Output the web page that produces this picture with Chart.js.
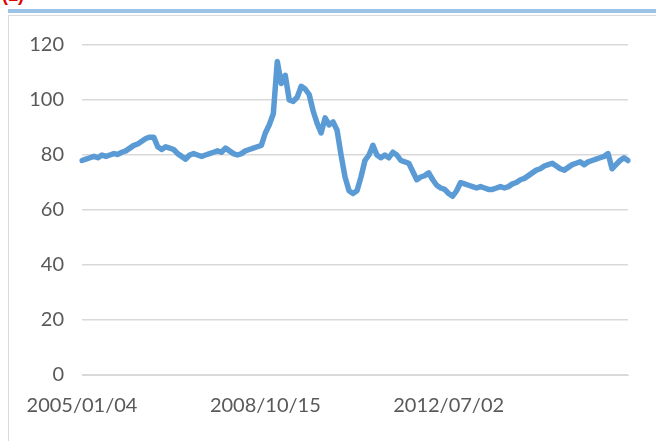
<!DOCTYPE html>
<html>
<head>
<meta charset="utf-8">
<script src="https://cdn.jsdelivr.net/npm/chart.js@4.4.1/dist/chart.umd.min.js"></script>
<style>
    html, body { margin: 0; padding: 0; background: #fff; overflow: hidden; }
    #wrap { position: relative; width: 656px; height: 441px; }
    #topBar { position: absolute; left: 8px; top: 9px; width: 648px; height: 4px; background: #9dc3e6; }
    #frame { position: absolute; left: 8px; top: 15px; width: 660px; height: 440px; border: 1px solid #d9d9d9; }
    #redTitle { position: absolute; left: 2px; top: -15px; color: #e00000; font: bold 18px 'Liberation Sans', sans-serif; }
    #chartBox { position: absolute; left: 0; top: 0; width: 656px; height: 441px; }
</style>
</head>
<body>
<div id="wrap">
    <div id="redTitle">(1)</div>
    <div id="topBar"></div>
    <div id="frame"></div>
    <div id="chartBox"><canvas id="chartSerie"></canvas></div>
</div>
<script>
// Datos
const serieValores = [
    78, 78.5, 79, 79.5, 79, 80, 79.5, 80, 80.5, 80.2,
    81, 81.5, 82.5, 83.5, 84, 85, 86, 86.5, 86.5, 83,
    82, 83, 82.5, 82, 80.5, 79.5, 78.5, 80, 80.5, 80,
    79.5, 80, 80.5, 81, 81.5, 81, 82.5, 81.5, 80.5, 80,
    80.5, 81.5, 82, 82.5, 83, 83.5, 88, 91, 95, 114,
    106, 109, 100, 99.5, 101, 105, 104, 102, 96, 91.5,
    88, 93.5, 91, 92, 89, 80, 72, 67, 66, 67,
    72, 78, 80, 83.5, 80, 79, 80, 79, 81, 80,
    78, 77.5, 77, 74, 71, 72, 72.5, 73.5, 71, 69,
    68, 67.5, 66, 65, 67, 70, 69.5, 69, 68.5, 68,
    68.5, 68, 67.5, 67.5, 68, 68.5, 68, 68.5, 69.5, 70,
    71, 71.5, 72.5, 73.5, 74.5, 75, 76, 76.5, 77, 76,
    75, 74.5, 75.5, 76.5, 77, 77.5, 76.5, 77.5, 78, 78.5,
    79, 79.5, 80.5, 75, 76.5, 78, 79, 78
];
const etiquetasFecha = ['2005/01/04', '2008/10/15', '2012/07/02'];
const pasoEtiqueta = 46;
const ticksY = [0, 20, 40, 60, 80, 100, 120];

const categorias = serieValores.map((v, i) => i);

document.addEventListener('DOMContentLoaded', function() {
    Chart.defaults.font.family = "Lato, 'Liberation Sans', sans-serif";
    Chart.defaults.color = '#595959';

    const ctx = document.getElementById('chartSerie');
    new Chart(ctx, {
        type: 'line',
        data: {
            labels: categorias,
            datasets: [{
                data: serieValores,
                borderColor: '#5b9bd5',
                borderWidth: 5.5,
                pointRadius: 0,
                tension: 0,
                borderJoinStyle: 'round',
                borderCapStyle: 'round',
                fill: false
            }]
        },
        options: {
            responsive: true,
            maintainAspectRatio: false,
            animation: false,
            layout: {
                padding: { left: 10, right: 28, top: 45, bottom: 0 }
            },
            scales: {
                x: {
                    grid: { display: false, drawTicks: false },
                    border: { display: true, color: '#d9d9d9', width: 1 },
                    ticks: {
                        autoSkip: false,
                        maxRotation: 0,
                        padding: 19,
                        font: { size: 20 },
                        callback: function(value, index) {
                            if (index % pasoEtiqueta === 0) {
                                return etiquetasFecha[index / pasoEtiqueta] || '';
                            }
                            return '';
                        }
                    },
                    afterFit: function(axis) { axis.height = 66; }
                },
                y: {
                    min: ticksY[0],
                    max: ticksY[ticksY.length - 1],
                    afterBuildTicks: function(axis) {
                        axis.ticks = ticksY.map(v => ({ value: v }));
                    },
                    grid: { color: '#d9d9d9', lineWidth: 1.5, drawTicks: false },
                    border: { display: false },
                    ticks: {
                        padding: 18,
                        font: { size: 20 }
                    },
                    afterFit: function(axis) { axis.width = 72; }
                }
            },
            plugins: {
                legend: { display: false },
                tooltip: { enabled: false }
            }
        }
    });
});
</script>
</body>
</html>
